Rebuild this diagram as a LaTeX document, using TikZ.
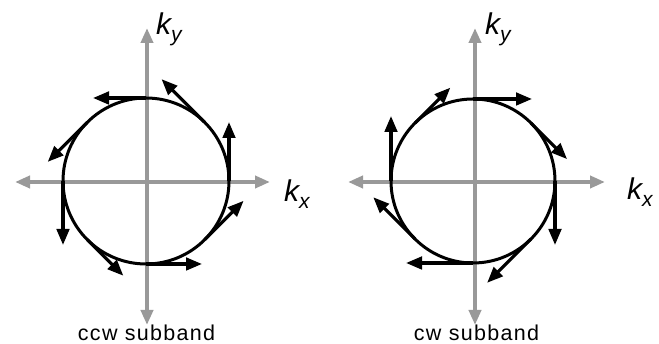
\documentclass[tikz,border=0pt]{standalone}
\usepackage{fontspec}
\setmainfont{Liberation Sans}
\usetikzlibrary{arrows.meta,calc}
\definecolor{axisgray}{RGB}{153,153,153}
\tikzset{
  axis/.style={draw=axisgray,line width=4pt,{Triangle[length=15pt,width=12pt]}-{Triangle[length=15pt,width=12pt]}},
  ring/.style={draw=black,line width=3pt},
  vec/.style={draw=black,line width=3.2pt,-{Triangle[length=16pt,width=12.5pt]}},
  klabel/.style={anchor=base west,inner sep=0pt,font=\fontsize{30}{30}\selectfont\itshape},
  bandlabel/.style={anchor=base,inner sep=0pt,font=\fontsize{21.5}{22}\selectfont\addfontfeature{LetterSpace=6}}
}
\newcommand{\ksub}[1]{k\raisebox{-7pt}{\fontsize{21}{21}\selectfont #1}}
\begin{document}
\begin{tikzpicture}[x=1pt,y=1pt]
\useasboundingbox (0,0) rectangle (659,344);
% ---- left panel (ccw)
\coordinate (cL) at (146,163);
\coordinate (axLw) at (15,162);
\coordinate (axLe) at (270,162);
\coordinate (axLs) at (147,19);
\coordinate (axLn) at (147,316);
\draw[axis] (axLw) -- (axLe);
\draw[axis] (axLs) -- (axLn);
\draw[ring] (cL) circle[radius=83];
\foreach \a/\l in {90/53,45/61,0/59,-45/55,-90/56,-135/51,180/64,135/56}{
  \coordinate (L\a) at ($(cL)+(\a:83)$);
  \draw[vec] (L\a) -- ++(\a+90:\l);
}
\node[klabel] (kyL) at (156,309) {\ksub{y}};
\node[klabel] (kxL) at (284,142) {\ksub{x}};
\node[bandlabel] (ccw) at (146.5,3) {ccw subband};
% ---- right panel (cw)
\coordinate (cR) at (473,163);
\coordinate (axRw) at (348,162);
\coordinate (axRe) at (605,162);
\coordinate (axRs) at (475,19);
\coordinate (axRn) at (475,316);
\draw[axis] (axRw) -- (axRe);
\draw[axis] (axRs) -- (axRn);
\draw[ring] (cR) circle[radius=82];
\foreach \a/\l in {90/59,45/51,0/64,-45/62,-90/67,-135/59,180/65,135/50}{
  \coordinate (R\a) at ($(cR)+(\a:82)$);
  \draw[vec] (R\a) -- ++(\a-90:\l);
}
\node[klabel] (kyR) at (485,309) {\ksub{y}};
\node[klabel] (kxR) at (627,144) {\ksub{x}};
\node[bandlabel] (cw) at (476.5,3) {cw subband};
\end{tikzpicture}
\end{document}
